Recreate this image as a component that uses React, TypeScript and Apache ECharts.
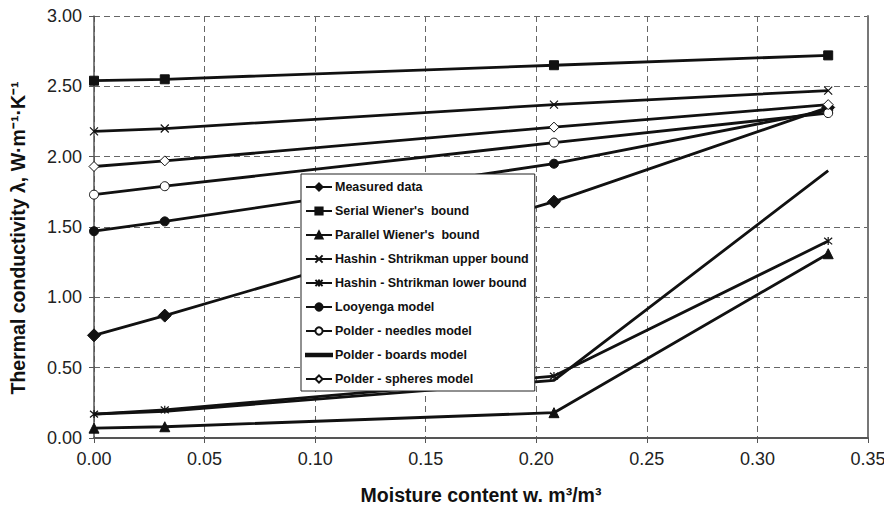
import React, { useEffect, useRef } from "react";
import * as echarts from "echarts";

const moisture = [0, 0.032, 0.208, 0.332];
const measured = [0.73, 0.87, 1.68, 2.35];
const serialWiener = [2.54, 2.55, 2.65, 2.72];
const parallelWiener = [0.07, 0.08, 0.18, 1.31];
const hsUpper = [2.18, 2.2, 2.37, 2.47];
const hsLower = [0.17, 0.2, 0.44, 1.4];
const looyenga = [1.47, 1.54, 1.95, 2.33];
const polderNeedles = [1.73, 1.79, 2.1, 2.31];
const polderBoards = [0.17, 0.19, 0.41, 1.9];
const polderSpheres = [1.93, 1.97, 2.21, 2.37];

const FONT = "'Liberation Sans', Arial, Helvetica, sans-serif";

const pts = (ys: number[]) => moisture.map((x, i) => [x, ys[i]]);

export default function App() {
  const ref = useRef<HTMLDivElement>(null);
  useEffect(() => {
    if (!ref.current) return;
    const chart = echarts.init(ref.current, undefined, { renderer: "svg" });
    const line = { color: "#111", width: 2.8 };
    const filled = { color: "#111", borderColor: "#111", borderWidth: 1 };
    const open = { color: "#fff", borderColor: "#111", borderWidth: 1 };
    const stroke = { color: "none", borderColor: "#111", borderWidth: 1.2 };
    const mk = (name: string, data: number[], symbol: string, size: number, itemStyle: any) => ({
      name,
      type: "line",
      data: pts(data),
      symbol,
      symbolSize: size,
      showSymbol: symbol !== "none",
      itemStyle,
      lineStyle: line,
      z: 3,
    });
    chart.setOption({
      animation: false,
      backgroundColor: "#fff",
      textStyle: { fontFamily: FONT },
      grid: { left: 93, right: 24, top: 16, bottom: 72, containLabel: false },
      legend: {
        orient: "vertical",
        left: 301,
        top: 174,
        backgroundColor: "#fff",
        borderColor: "#222",
        borderWidth: 1,
        borderRadius: 0,
        padding: [6, 6, 5, 4],
        itemWidth: 26,
        itemHeight: 9,
        itemGap: 10,
        textStyle: {
          fontFamily: FONT,
          fontSize: 12.5,
          lineHeight: 14,
          fontWeight: "bold",
          color: "#111",
          padding: [0, 0, 0, -2],
        },
        data: [
          "Measured data",
          "Serial Wiener's  bound",
          "Parallel Wiener's  bound",
          "Hashin - Shtrikman upper bound",
          "Hashin - Shtrikman lower bound",
          "Looyenga model",
          "Polder - needles model",
          { name: "Polder - boards model", icon: "path://M0,0L30,0L30,3L0,3Z" },
          "Polder - spheres model",
        ],
      },
      xAxis: {
        type: "value",
        min: 0,
        max: 0.35,
        interval: 0.05,
        name: "Moisture content w, m³/m³",
        nameLocation: "middle",
        nameGap: 47,
        nameTextStyle: { fontFamily: FONT, fontSize: 19.5, fontWeight: "bold", color: "#111" },
        axisLine: { show: true, lineStyle: { color: "#555", width: 2 } },
        axisTick: { show: true, length: 5, lineStyle: { color: "#555" } },
        axisLabel: { fontFamily: FONT, fontSize: 18, color: "#222", margin: 12, formatter: (v: number) => v.toFixed(2) },
        splitLine: { show: true, lineStyle: { color: "#666", type: [6, 4], width: 1 } },
      },
      yAxis: [
        {
          type: "value",
          min: 0,
          max: 3,
          interval: 0.5,
          name: "Thermal conductivity λ, W·m⁻¹·K⁻¹",
          nameLocation: "middle",
          nameGap: 66,
          nameTextStyle: {
            fontFamily: FONT,
            fontSize: 19.5,
            fontWeight: "bold",
            color: "#111",
            padding: [0, 22, 0, 0],
          },
          axisLine: { show: true, lineStyle: { color: "#555", width: 1.5 } },
          axisTick: { show: true, length: 5, lineStyle: { color: "#555" } },
          axisLabel: { fontFamily: FONT, fontSize: 18, color: "#222", margin: 12, formatter: (v: number) => v.toFixed(2) },
          splitLine: { show: true, lineStyle: { color: "#666", type: [6, 4], width: 1 } },
        },
        {
          type: "value",
          min: 0,
          max: 3,
          interval: 0.5,
          position: "right",
          axisLine: { show: true, lineStyle: { color: "#777", width: 2 } },
          axisTick: { show: false },
          axisLabel: { show: false },
          splitLine: { show: false },
        },
      ],
      series: [
        mk("Measured data", measured, "diamond", 13, filled),
        mk("Serial Wiener's  bound", serialWiener, "rect", 9, filled),
        mk("Parallel Wiener's  bound", parallelWiener, "triangle", 10, filled),
        mk("Hashin - Shtrikman upper bound", hsUpper, "path://M0,0L10,10M10,0L0,10", 8, stroke),
        mk("Hashin - Shtrikman lower bound", hsLower, "path://M0,0L10,10M10,0L0,10M5,-1L5,11", 8, stroke),
        mk("Looyenga model", looyenga, "circle", 9, filled),
        mk("Polder - needles model", polderNeedles, "circle", 9, open),
        mk("Polder - boards model", polderBoards, "none", 6, filled),
        mk("Polder - spheres model", polderSpheres, "diamond", 10, open),
      ],
    });
    return () => chart.dispose();
  }, []);
  return <div ref={ref} style={{ width: 892, height: 510, margin: -8 }} />;
}
